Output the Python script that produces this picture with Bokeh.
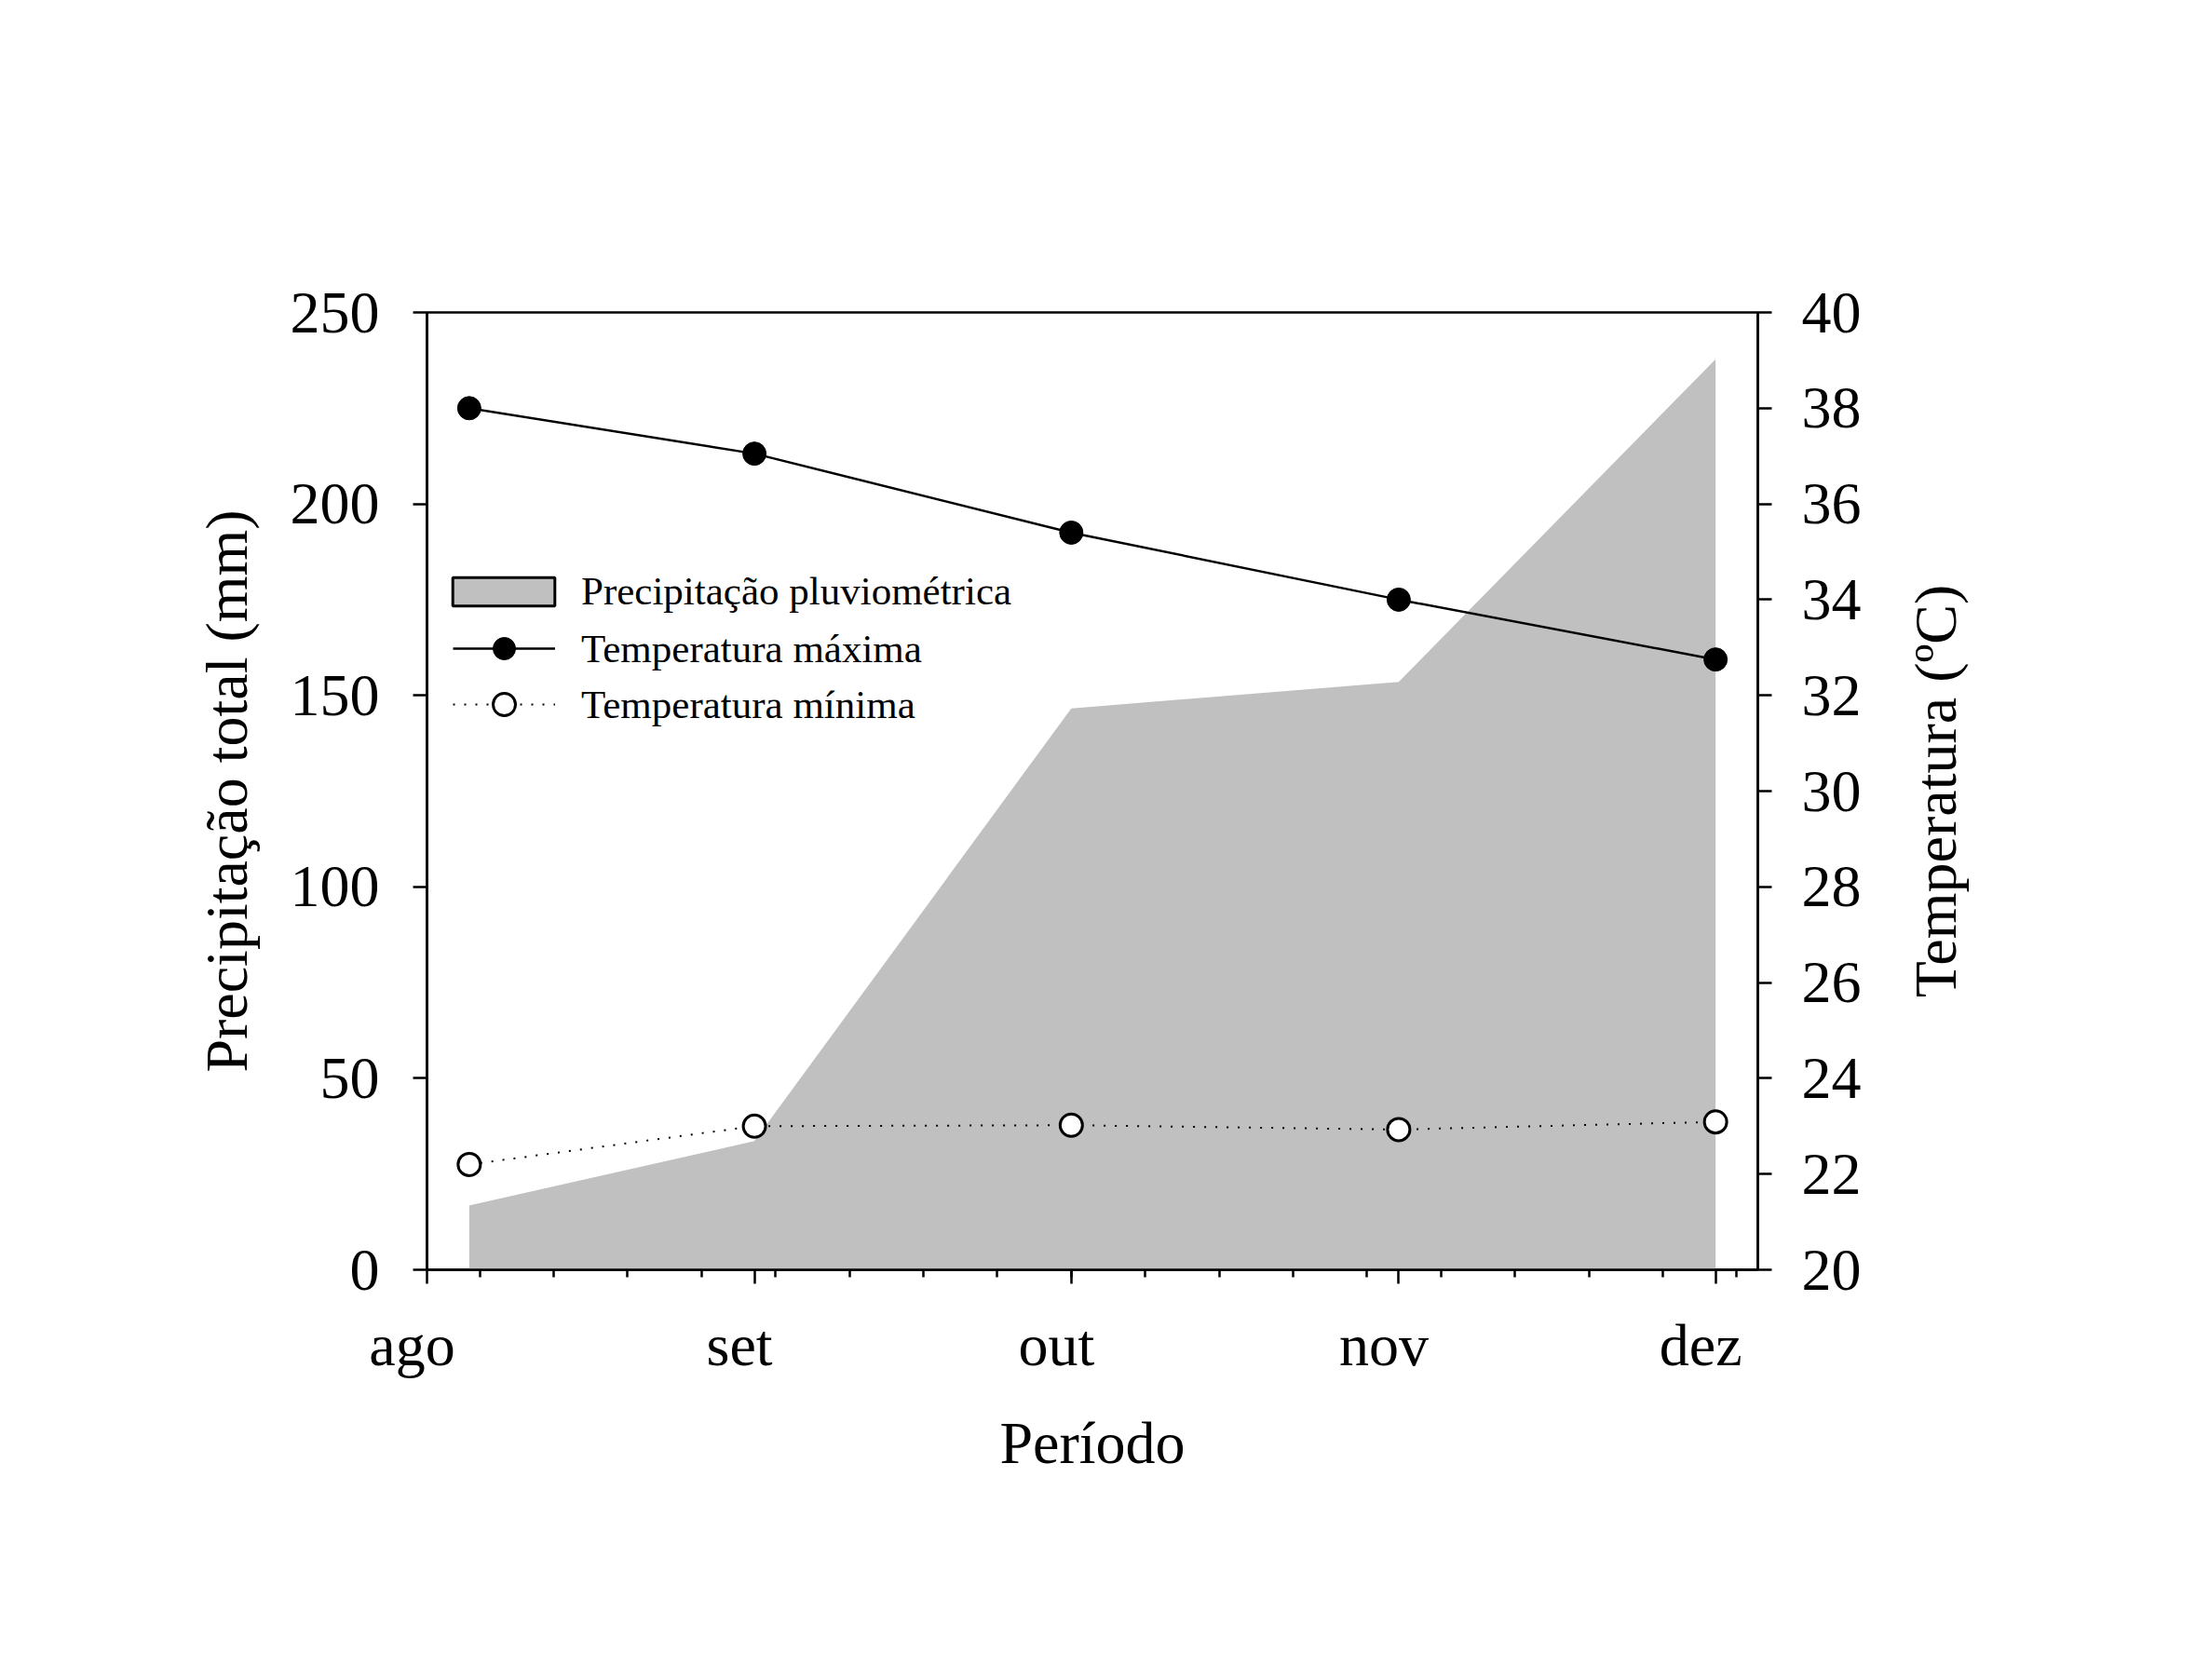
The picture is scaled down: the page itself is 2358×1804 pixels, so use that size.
import math
from bokeh.plotting import figure
from bokeh.layouts import row
from bokeh.models import (Range1d, LinearAxis, FixedTicker, Legend, LegendItem,
                          Title, ColumnDataSource)
from bokeh.embed import file_html
from bokeh.resources import INLINE

# ---------------- data ----------------
month_labels = ["ago", "set", "out", "nov", "dez"]
month_start_days = [0, 31, 61, 92, 122]          # days counted from 1 Aug
obs_days = [4, 31, 61, 92, 122]                  # dates of the monthly observations
precip_mm = [16.8, 33.6, 146.6, 153.5, 237.8]    # Precipitação pluviométrica
tmax_c = [38.0, 37.05, 35.4, 34.0, 32.75]        # Temperatura máxima
tmin_c = [22.2, 23.0, 23.02, 22.93, 23.09]       # Temperatura mínima
week_days = [5, 12, 19, 26, 33, 40, 47, 54, 61, 68, 75, 82, 89, 96, 103, 110, 117, 124]
precip_ticks = [0, 50, 100, 150, 200, 250]
temp_ticks = [20, 22, 24, 26, 28, 30, 32, 34, 36, 38, 40]
x_start, x_end = 0, 126
p_start, p_end = 0, 250
t_start, t_end = 20, 40

FONT = "Liberation Serif"
GRAY = "#c0c0c0"
NBSP = "\u00a0"

TOTAL_W, H = 2342, 1788
BL, BT, BB = 458, 335, 425
FRAME_W = 1429
BR = 153
W1 = BL + FRAME_W + BR

p = figure(width=W1, height=H, output_backend="svg", toolbar_location=None,
           x_range=Range1d(x_start, x_end), y_range=Range1d(p_start, p_end),
           min_border_left=BL, min_border_right=BR,
           min_border_top=BT, min_border_bottom=BB)
p.grid.visible = False
p.outline_line_color = "black"
p.outline_line_width = 2.5
p.background_fill_color = "white"
p.border_fill_color = "white"


def style_axis(ax):
    ax.axis_line_color = "black"
    ax.axis_line_width = 2.5
    ax.major_tick_line_color = "black"
    ax.major_tick_line_width = 2.5
    ax.minor_tick_line_color = "black"
    ax.minor_tick_line_width = 2.5
    ax.major_tick_in = 0
    ax.major_tick_out = 15
    ax.minor_tick_in = 0
    ax.minor_tick_out = 8
    ax.major_label_text_font = FONT
    ax.major_label_text_font_size = "64px"
    ax.major_label_text_color = "black"
    ax.axis_label_text_font = FONT
    ax.axis_label_text_font_size = "64px"
    ax.axis_label_text_font_style = "normal"
    ax.axis_label_text_color = "black"


# bottom axis: month names sit a little left of their ticks (two trailing no-break spaces)
xax = p.xaxis[0]
style_axis(xax)
xax.ticker = FixedTicker(ticks=month_start_days, minor_ticks=week_days)
xax.major_label_overrides = {d: m + NBSP * 2 for d, m in zip(month_start_days, month_labels)}
xax.major_label_standoff = 30
xax.axis_label = "Período"
xax.axis_label_standoff = 31

# left axis
yax = p.yaxis[0]
style_axis(yax)
yax.ticker = FixedTicker(ticks=precip_ticks, minor_ticks=[])
yax.major_label_standoff = 36
yax.axis_label = "Precipitação total (mm)"
yax.axis_label_standoff = 30

# right axis
p.extra_y_ranges = {"temp": Range1d(t_start, t_end)}
rax = LinearAxis(y_range_name="temp", ticker=FixedTicker(ticks=temp_ticks, minor_ticks=[]))
style_axis(rax)
rax.major_label_standoff = 32
p.add_layout(rax, "right")

src = ColumnDataSource(dict(day=obs_days, precip=precip_mm, tmax=tmax_c, tmin=tmin_c))

p.varea(x="day", y1=0, y2="precip", source=src, fill_color=GRAY)

l_min = p.line("day", "tmin", source=src, y_range_name="temp", line_color="black",
               line_width=2, line_dash="2 10")
l_max = p.line("day", "tmax", source=src, y_range_name="temp", line_color="black",
               line_width=2.5)
s_max = p.scatter("day", "tmax", source=src, y_range_name="temp", marker="circle", size=25,
                  fill_color="black", line_color="black", line_width=1)
s_min = p.scatter("day", "tmin", source=src, y_range_name="temp", marker="circle", size=24,
                  fill_color="white", line_color="black", line_width=3)

# legend swatch for the precipitation area (bordered); NaN geometry -> not drawn in plot
proxy_src = ColumnDataSource(dict(l=[math.nan], r=[math.nan], t=[math.nan], b=[math.nan]))
proxy = p.quad(left="l", right="r", top="t", bottom="b", source=proxy_src, fill_color=GRAY,
               line_color="black", line_width=3)


def style_legend(leg):
    leg.padding = 0
    leg.margin = 0
    leg.spacing = 0
    leg.border_line_color = None
    leg.background_fill_alpha = 0
    leg.label_text_font = FONT
    leg.label_text_font_size = "43px"
    leg.label_text_color = "black"


leg1 = Legend(items=[LegendItem(label="Precipitação pluviométrica", renderers=[proxy])],
              location=(14, 704), glyph_width=137, glyph_height=38, label_standoff=15)
style_legend(leg1)
leg2 = Legend(items=[LegendItem(label="Temperatura máxima", renderers=[l_max, s_max]),
                     LegendItem(label="Temperatura mínima", renderers=[l_min, s_min])],
              location=(28, 577), glyph_width=110, glyph_height=60, label_standoff=28)
style_legend(leg2)
p.add_layout(leg1)
p.add_layout(leg2)

# narrow companion panel that carries the right-hand title, reading bottom to top
p2 = figure(width=TOTAL_W - W1, height=H, output_backend="svg", toolbar_location=None,
            x_axis_location=None, y_axis_location=None,
            min_border_left=0, min_border_right=0, min_border_top=BT, min_border_bottom=BB)
p2.outline_line_color = None
p2.background_fill_color = "white"
p2.border_fill_color = "white"
p2.add_layout(Title(text="Temperatura (ºC)", align="center", text_font=FONT,
                    text_font_size="64px", text_font_style="normal", text_color="black",
                    standoff=0), "left")

layout = row(p, p2)
open("out.html", "w").write(file_html(layout, INLINE))
